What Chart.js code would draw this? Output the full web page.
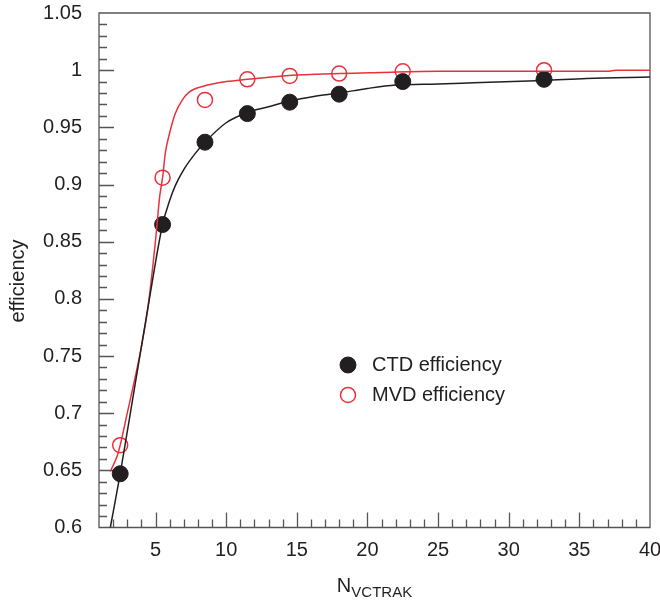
<!DOCTYPE html>
<html>
<head>
<meta charset="utf-8">
<script src="https://cdn.jsdelivr.net/npm/chart.js@4/dist/chart.umd.min.js"></script>
<style>
  html, body { margin: 0; padding: 0; background: #fff; }
  #wrap { width: 660px; height: 603px; }
</style>
</head>
<body>
<div id="wrap"><canvas id="eff"></canvas></div>
<script>
// measured points
const nTracks = [2.5, 5.5, 8.5, 11.5, 14.5, 18, 22.5, 32.5];
const ctdEff = [0.647, 0.865, 0.937, 0.962, 0.972, 0.979, 0.990, 0.992];
const mvdEff = [0.672, 0.906, 0.974, 0.992, 0.995, 0.997, 0.999, 1.000];

// fitted curves
const ctdFitX = [1.8, 2.5, 3.5, 4.5, 5.5, 6.0, 6.4, 7.0, 7.8, 8.5, 10, 11.5, 13, 14.5, 16.2, 18, 20, 22, 25, 27.5, 32.5, 35.5, 40];
const ctdFitY = [0.600, 0.647, 0.721, 0.795, 0.865, 0.886, 0.899, 0.913, 0.927, 0.937, 0.954, 0.963, 0.968, 0.973, 0.977, 0.980, 0.984, 0.987, 0.988, 0.989, 0.991, 0.9927, 0.994];
const mvdFitX = [1.8, 2.3, 2.5, 3.0, 3.5, 4.0, 4.5, 5.0, 5.3, 5.5, 5.7, 6.0, 6.4, 6.9, 7.4, 8.4, 10, 11.5, 14, 16.5, 21, 25, 30, 37, 37.6, 40];
const mvdFitY = [0.649, 0.663, 0.672, 0.700, 0.728, 0.758, 0.796, 0.851, 0.890, 0.906, 0.928, 0.945, 0.962, 0.974, 0.981, 0.986, 0.990, 0.992, 0.995, 0.9965, 0.998, 0.999, 0.999, 0.999, 1.000, 1.000];

const xTickValues = [5, 10, 15, 20, 25, 30, 35, 40];
const yTickValues = [0.6, 0.65, 0.7, 0.75, 0.8, 0.85, 0.9, 0.95, 1, 1.05];

const seriesNames = ['CTD efficiency', 'MVD efficiency'];

const ink = '#231f20';
const red = '#e8313a';
const axisColor = '#555';
const font = 'Liberation Sans, Arial, Helvetica, sans-serif';

const pairs = (xs, ys) => xs.map((v, i) => ({ x: v, y: ys[i] }));

// frame plus inward ticks (major every 5 / 0.05, minor every 1 / 0.01)
const frameTicks = {
  id: 'frameTicks',
  beforeDatasetsDraw(chart) {
    const { ctx, chartArea: a, scales: { x, y } } = chart;
    ctx.save();
    ctx.strokeStyle = axisColor;
    ctx.lineWidth = 1.3;
    ctx.beginPath();
    for (let v = 2; v < 40; v++) {
      const px = Math.round(x.getPixelForValue(v)) + 0.5;
      const len = v % 5 === 0 ? 15 : 8;
      ctx.moveTo(px, a.bottom);
      ctx.lineTo(px, a.bottom - len);
    }
    for (let i = 61; i < 105; i++) {
      const py = Math.round(y.getPixelForValue(i / 100)) + 0.5;
      const len = i % 5 === 0 ? 15 : 8;
      ctx.moveTo(a.left, py);
      ctx.lineTo(a.left + len, py);
    }
    ctx.rect(a.left, a.top, a.right - a.left, a.bottom - a.top);
    ctx.stroke();
    ctx.restore();
  }
};

// legend inside the plot and the axis titles (x title has a subscript)
const labels = {
  id: 'labels',
  afterDraw(chart) {
    const { ctx, chartArea: a } = chart;
    ctx.save();
    ctx.fillStyle = ink;
    ctx.font = '20px ' + font;
    ctx.textBaseline = 'middle';
    const rows = [chart.data.datasets[2], chart.data.datasets[3]];
    rows.forEach((ds, i) => {
      const cy = 365 + i * 30;
      ctx.beginPath();
      ctx.arc(348, cy, ds.pointRadius, 0, Math.PI * 2);
      ctx.fillStyle = ds.backgroundColor;
      ctx.fill();
      ctx.lineWidth = ds.borderWidth;
      ctx.strokeStyle = ds.borderColor;
      ctx.stroke();
      ctx.fillStyle = ink;
      ctx.textAlign = 'left';
      ctx.fillText(seriesNames[i], 372, cy);
    });

    // y title
    ctx.save();
    ctx.translate(18, 281);
    ctx.rotate(-Math.PI / 2);
    ctx.textAlign = 'center';
    ctx.fillText('efficiency', 0, 0);
    ctx.restore();

    // x title: N with subscript
    ctx.textBaseline = 'alphabetic';
    ctx.textAlign = 'left';
    ctx.font = '20px ' + font;
    const wN = ctx.measureText('N').width;
    ctx.font = '15px ' + font;
    const wSub = ctx.measureText('VCTRAK').width;
    const x0 = (a.left + a.right) / 2 - (wN + wSub) / 2;
    ctx.font = '20px ' + font;
    ctx.fillText('N', x0, 592);
    ctx.font = '15px ' + font;
    ctx.fillText('VCTRAK', x0 + wN, 597);
    ctx.restore();
  }
};

new Chart(document.getElementById('eff'), {
  type: 'scatter',
  data: {
    datasets: [
      {
        label: 'CTD fit',
        data: pairs(ctdFitX, ctdFitY),
        showLine: true,
        borderColor: ink,
        borderWidth: 1.5,
        pointRadius: 0,
        cubicInterpolationMode: 'monotone'
      },
      {
        label: 'MVD fit',
        data: pairs(mvdFitX, mvdFitY),
        showLine: true,
        borderColor: red,
        borderWidth: 1.5,
        pointRadius: 0,
        cubicInterpolationMode: 'monotone'
      },
      {
        label: seriesNames[0],
        data: pairs(nTracks, ctdEff),
        pointRadius: 8,
        backgroundColor: ink,
        borderColor: ink,
        borderWidth: 1
      },
      {
        label: seriesNames[1],
        data: pairs(nTracks, mvdEff),
        pointRadius: 7.5,
        backgroundColor: '#ffffff',
        borderColor: red,
        borderWidth: 1.5
      }
    ]
  },
  options: {
    responsive: true,
    maintainAspectRatio: false,
    animation: false,
    layout: { padding: { top: 13, right: 10, left: 0, bottom: 0 } },
    plugins: {
      legend: { display: false },
      tooltip: { enabled: false }
    },
    scales: {
      x: {
        type: 'linear',
        min: 1,
        max: 40,
        grid: { display: false, drawTicks: false },
        border: { display: false },
        afterBuildTicks: s => { s.ticks = xTickValues.map(v => ({ value: v })); },
        afterFit: s => { s.height = 75.5; s.paddingLeft = 0; s.paddingRight = 0; },
        ticks: { color: ink, padding: 11, font: { family: font, size: 20 }, maxRotation: 0 }
      },
      y: {
        type: 'linear',
        min: 0.6,
        max: 1.05,
        grid: { display: false, drawTicks: false },
        border: { display: false },
        afterBuildTicks: s => { s.ticks = yTickValues.map(v => ({ value: v })); },
        afterFit: s => { s.width = 99; s.paddingTop = 0; s.paddingBottom = 0; },
        ticks: {
          color: ink,
          padding: 17,
          font: { family: font, size: 20 },
          callback: v => String(Number(v.toFixed(2)))
        }
      }
    }
  },
  plugins: [frameTicks, labels]
});
</script>
</body>
</html>
